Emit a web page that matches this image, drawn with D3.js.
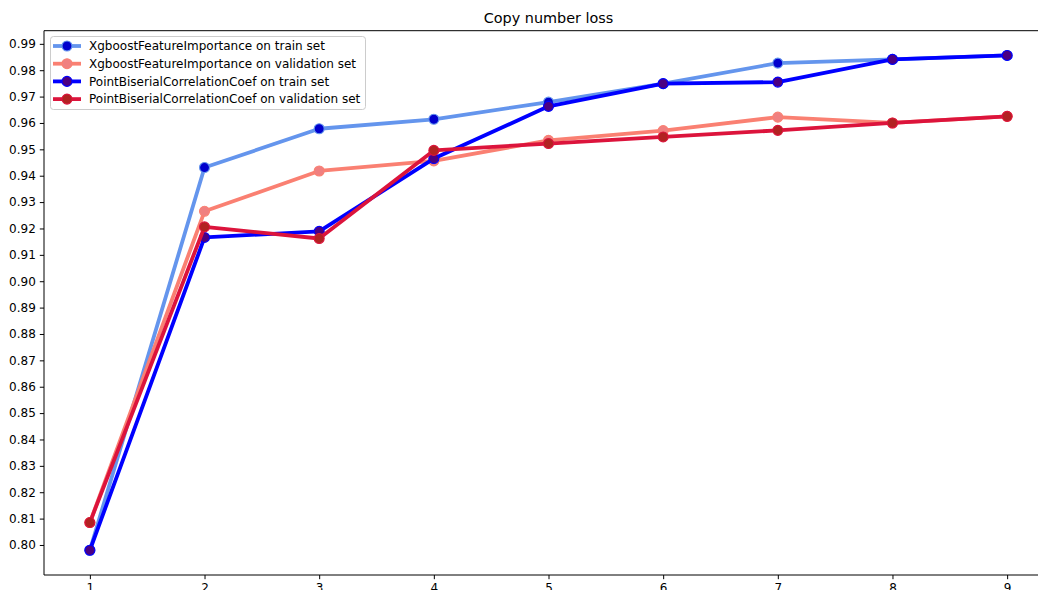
<!DOCTYPE html>
<html>
<head>
<meta charset="utf-8">
<script src="https://cdn.jsdelivr.net/npm/d3@7"></script>
<style>
  html, body { margin: 0; padding: 0; background: #fff; }
  svg { display: block; font-family: "DejaVu Sans", sans-serif; }
</style>
</head>
<body>
<div id="chart"></div>
<script>
// Number of selected features (x) and accuracy per method/set
const steps = [1, 2, 3, 4, 5, 6, 7, 8, 9];
const xgbTrain = [0.798, 0.9431, 0.9578, 0.9614, 0.9679, 0.9749, 0.9827, 0.9841, 0.9856];
const xgbValid = [0.8085, 0.9265, 0.9418, 0.9456, 0.9534, 0.9571, 0.9622, 0.9600, 0.9625];
const pbTrain  = [0.798, 0.9166, 0.9189, 0.9465, 0.9663, 0.9749, 0.9755, 0.9841, 0.9856];
const pbValid  = [0.8085, 0.9206, 0.9162, 0.9496, 0.9522, 0.9547, 0.9572, 0.9600, 0.9625];
const seriesNames = [
  "XgboostFeatureImportance on train set",
  "XgboostFeatureImportance on validation set",
  "PointBiserialCorrelationCoef on train set",
  "PointBiserialCorrelationCoef on validation set"
];
const yTicks = d3.range(80, 100).map(v => v / 100);

const series = [
  { name: seriesNames[0], values: xgbTrain, line: "#6495ED", marker: "#0000CD" },
  { name: seriesNames[1], values: xgbValid, line: "#FA8072", marker: "#F08080" },
  { name: seriesNames[2], values: pbTrain,  line: "#0000FF", marker: "#4B0082" },
  { name: seriesNames[3], values: pbValid,  line: "#DC143C", marker: "#B22222" }
];

const W = 1038, H = 590;
const plotL = 44, plotT = 30.7, plotR = 1053, plotB = 575;
const FONT = 12, TITLE_FONT = 14.4;

const svg = d3.select("#chart").append("svg")
  .attr("width", W).attr("height", H);

// Axis ranges padded by 5% of the data span on each side
const allY = series.flatMap(s => s.values);
const [yMin, yMax] = d3.extent(allY);
const yPad = (yMax - yMin) * 0.05;
const [xMin, xMax] = d3.extent(steps);
const xPad = (xMax - xMin) * 0.05;

const x = d3.scaleLinear().domain([xMin - xPad, xMax + xPad]).range([plotL, plotR]);
const y = d3.scaleLinear().domain([yMin - yPad, yMax + yPad]).range([plotB, plotT]);

// Axes
const yAxis = d3.axisLeft(y).tickValues(yTicks).tickFormat(d3.format(".2f"))
  .tickSize(4.2).tickPadding(4);
const xAxis = d3.axisBottom(x).tickValues(steps).tickFormat(d3.format("d"))
  .tickSize(4.2).tickPadding(4);

const gy = svg.append("g").attr("transform", `translate(${plotL},0)`).call(yAxis);
const gx = svg.append("g").attr("transform", `translate(0,${plotB})`).call(xAxis);
[gx, gy].forEach(g => {
  g.select(".domain").remove();
  g.selectAll(".tick line").attr("stroke", "#000").attr("stroke-width", 1);
  g.selectAll(".tick text").attr("fill", "#000")
    .style("font-family", "'DejaVu Sans', sans-serif").style("font-size", FONT + "px");
});

// Spines (left, bottom, top)
const spines = svg.append("g").attr("stroke", "#000").attr("stroke-width", 1).attr("fill", "none");
spines.append("line").attr("x1", plotL).attr("x2", plotL).attr("y1", plotT).attr("y2", plotB);
spines.append("line").attr("x1", plotL).attr("x2", plotR).attr("y1", plotB).attr("y2", plotB);
spines.append("line").attr("x1", plotL).attr("x2", plotR).attr("y1", plotT).attr("y2", plotT);

// Title
svg.append("text")
  .attr("x", (plotL + plotR) / 2).attr("y", plotT - 7.5)
  .attr("text-anchor", "middle")
  .style("font-size", TITLE_FONT + "px").attr("fill", "#000")
  .text("Copy number loss");

// Lines with markers
const line = d3.line().x((d, i) => x(steps[i])).y(d => y(d));
series.forEach(s => {
  const g = svg.append("g");
  g.append("path").datum(s.values)
    .attr("d", line)
    .attr("fill", "none")
    .attr("stroke", s.line)
    .attr("stroke-width", 3.8)
    .attr("stroke-linejoin", "round")
    .attr("stroke-linecap", "butt");
  g.selectAll("circle").data(s.values).join("circle")
    .attr("cx", (d, i) => x(steps[i]))
    .attr("cy", d => y(d))
    .attr("r", 5)
    .attr("fill", s.marker)
    .attr("stroke", s.line)
    .attr("stroke-width", 1.1);
});

// Legend
const lg = svg.append("g").attr("transform", "translate(50,36)");
lg.append("rect")
  .attr("x", 0.5).attr("y", 0.5).attr("width", 315).attr("height", 73)
  .attr("rx", 3).attr("ry", 3)
  .attr("fill", "#fff").attr("fill-opacity", 0.8)
  .attr("stroke", "#cccccc").attr("stroke-width", 1);
series.forEach((s, i) => {
  const cy = 10 + i * 17.7;
  lg.append("line")
    .attr("x1", 3).attr("x2", 31).attr("y1", cy).attr("y2", cy)
    .attr("stroke", s.line).attr("stroke-width", 3.8);
  lg.append("circle")
    .attr("cx", 17).attr("cy", cy).attr("r", 5)
    .attr("fill", s.marker).attr("stroke", s.line).attr("stroke-width", 1.1);
  lg.append("text")
    .attr("x", 39).attr("y", cy).attr("dy", "0.35em")
    .style("font-size", FONT + "px").attr("fill", "#000")
    .text(s.name);
});
</script>
</body>
</html>
